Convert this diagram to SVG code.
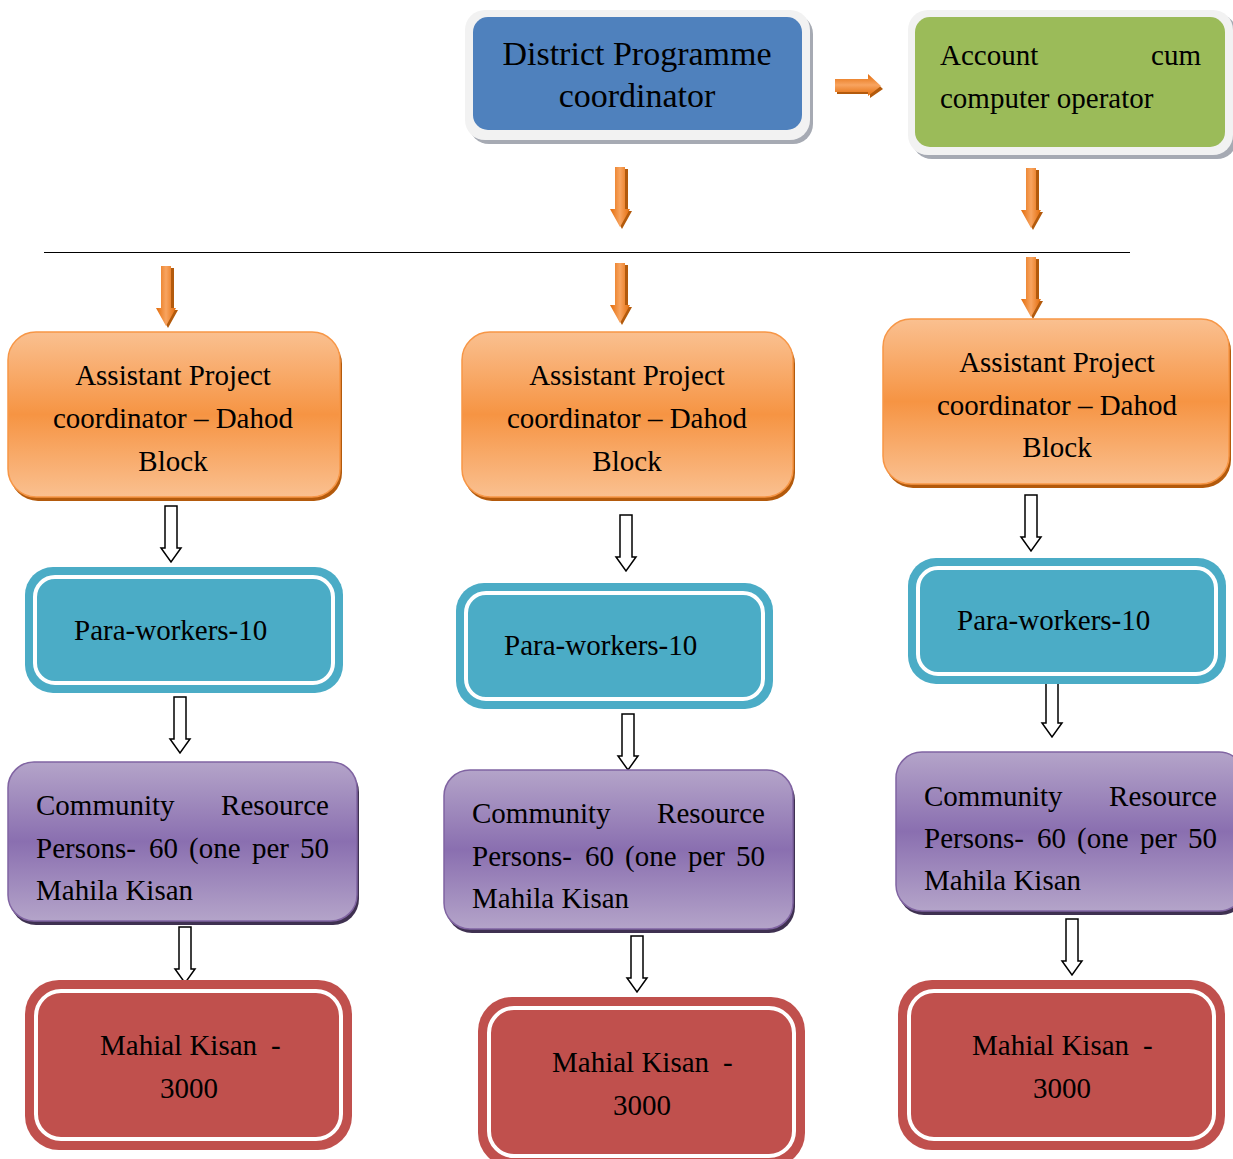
<svg xmlns="http://www.w3.org/2000/svg" width="1233" height="1159" viewBox="0 0 1233 1159">
<style>
text{font-family:"Liberation Serif","Times New Roman",serif;fill:#000;}
.t34{font-size:34px;}
.t28{font-size:29px;}
.mid{text-anchor:middle;}
.end{text-anchor:end;}
.wa{fill:#fff;stroke:#000;stroke-width:1.5;}
.orgShadow{fill:#b35a0c;}
.orgBody{fill:url(#gOrangeArrow);}
.orgBodyH{fill:url(#gOrangeArrowH);}
</style>
<defs>
<linearGradient id="gOrangeArrow" x1="0" y1="0" x2="1" y2="0">
<stop offset="0" stop-color="#e36c0a"/><stop offset="0.5" stop-color="#f8a460"/><stop offset="1" stop-color="#e36c0a"/>
</linearGradient>
<linearGradient id="gOrangeArrowH" x1="0" y1="0" x2="0" y2="1">
<stop offset="0" stop-color="#e36c0a"/><stop offset="0.5" stop-color="#f8a460"/><stop offset="1" stop-color="#e36c0a"/>
</linearGradient>
<linearGradient id="gOrange" x1="0" y1="0" x2="0" y2="1">
<stop offset="0" stop-color="#fac090"/><stop offset="0.5" stop-color="#f69443"/><stop offset="1" stop-color="#fac090"/>
</linearGradient>
<linearGradient id="gPurple" x1="0" y1="0" x2="0" y2="1">
<stop offset="0" stop-color="#b4a4c9"/><stop offset="0.5" stop-color="#8a6fb0"/><stop offset="1" stop-color="#b4a4c9"/>
</linearGradient>
<path id="wa" d="M-6,0 H6 V42 H10 L0,56 L-10,42 H-6 Z"/>
<g id="oa">
<path class="orgShadow" d="M-2,2 H8 V44 H12 L2,62 L-8,44 H-2 Z"/>
<path class="orgBody" d="M-5,0 H5 V42 H10 L0,60 L-10,42 H-5 Z"/>
</g>
</defs>

<g id="connectors">
<line x1="44" y1="252.5" x2="1130" y2="252.5" stroke="#000" stroke-width="1"/>
<g id="arrow-right">
<path class="orgShadow" d="M837,82 H870 V77 L883,89 L870,98 V94 H837 Z"/>
<path class="orgBodyH" d="M835,79 H868 V74 L881,86 L868,96 V92 H835 Z"/>
</g>
<use href="#oa" x="620" y="167"/>
<use href="#oa" x="1031" y="168"/>
<use href="#oa" x="166" y="266"/>
<use href="#oa" x="620" y="263"/>
<use href="#oa" x="1031" y="257"/>
<use href="#wa" class="wa" x="171" y="506"/>
<use href="#wa" class="wa" x="626" y="515"/>
<use href="#wa" class="wa" x="1031" y="495"/>
<use href="#wa" class="wa" x="180" y="697"/>
<use href="#wa" class="wa" x="628" y="714"/>
<use href="#wa" class="wa" x="1052" y="681"/>
<use href="#wa" class="wa" x="185" y="927"/>
<use href="#wa" class="wa" x="637" y="936"/>
<use href="#wa" class="wa" x="1072" y="919"/>
</g>

<g id="dpc">
<rect x="469" y="14" width="344" height="130" rx="20" fill="#a6aab3"/>
<rect x="465" y="10" width="345" height="130" rx="20" fill="#f2f2f2"/>
<rect x="473" y="17" width="329" height="113" rx="15" fill="#4f81bd"/>
<text class="t34 mid" x="637" y="65">District Programme</text>
<text class="t34 mid" x="637" y="107">coordinator</text>
</g>

<g id="account">
<rect x="912" y="14" width="325" height="145" rx="20" fill="#a6aab3"/>
<rect x="908" y="10" width="325" height="145" rx="20" fill="#f2f2f2"/>
<rect x="915" y="17" width="310" height="130" rx="15" fill="#9bbb59"/>
<text class="t28" x="940" y="65">Account</text>
<text class="t28 end" x="1201" y="65">cum</text>
<text class="t28" x="940" y="108">computer operator</text>
</g>

<g id="apc-left">
<rect x="10" y="336" width="332" height="165" rx="28" fill="#b35a0c"/>
<rect x="8" y="332" width="332" height="165" rx="28" fill="url(#gOrange)" stroke="#f79646" stroke-width="1.5"/>
<text class="t28 mid" x="173" y="385">Assistant Project</text>
<text class="t28 mid" x="173" y="428">coordinator – Dahod</text>
<text class="t28 mid" x="173" y="471">Block</text>
</g>
<g id="apc-mid">
<rect x="464" y="336" width="331" height="165" rx="28" fill="#b35a0c"/>
<rect x="462" y="332" width="331" height="165" rx="28" fill="url(#gOrange)" stroke="#f79646" stroke-width="1.5"/>
<text class="t28 mid" x="627" y="385">Assistant Project</text>
<text class="t28 mid" x="627" y="428">coordinator – Dahod</text>
<text class="t28 mid" x="627" y="471">Block</text>
</g>
<g id="apc-right">
<rect x="885" y="323" width="346" height="165" rx="28" fill="#b35a0c"/>
<rect x="883" y="319" width="346" height="165" rx="28" fill="url(#gOrange)" stroke="#f79646" stroke-width="1.5"/>
<text class="t28 mid" x="1057" y="372">Assistant Project</text>
<text class="t28 mid" x="1057" y="415">coordinator – Dahod</text>
<text class="t28 mid" x="1057" y="457">Block</text>
</g>

<g id="para-left">
<rect x="25" y="567" width="318" height="126" rx="28" fill="#4bacc6"/>
<rect x="35" y="577" width="298" height="106" rx="20" fill="#4bacc6" stroke="#fff" stroke-width="4"/>
<text class="t28" x="74" y="640">Para-workers-10</text>
</g>
<g id="para-mid">
<rect x="456" y="583" width="317" height="126" rx="28" fill="#4bacc6"/>
<rect x="466" y="593" width="297" height="106" rx="20" fill="#4bacc6" stroke="#fff" stroke-width="4"/>
<text class="t28" x="504" y="655">Para-workers-10</text>
</g>
<g id="para-right">
<rect x="908" y="558" width="318" height="126" rx="28" fill="#4bacc6"/>
<rect x="918" y="568" width="298" height="106" rx="20" fill="#4bacc6" stroke="#fff" stroke-width="4"/>
<text class="t28" x="957" y="630">Para-workers-10</text>
</g>

<g id="crp-left">
<rect x="10" y="766" width="349" height="159" rx="26" fill="#3f3151"/>
<rect x="8" y="762" width="349" height="159" rx="26" fill="url(#gPurple)" stroke="#8064a2" stroke-width="1.5"/>
<text class="t28" x="36" y="815">Community</text>
<text class="t28 end" x="329" y="815">Resource</text>
<text class="t28" y="858"><tspan x="36">Persons-</tspan><tspan x="149">60</tspan><tspan x="189">(one</tspan><tspan x="252">per</tspan><tspan x="300">50</tspan></text>
<text class="t28" x="36" y="900">Mahila Kisan</text>
</g>
<g id="crp-mid">
<rect x="446" y="774" width="349" height="159" rx="26" fill="#3f3151"/>
<rect x="444" y="770" width="349" height="159" rx="26" fill="url(#gPurple)" stroke="#8064a2" stroke-width="1.5"/>
<text class="t28" x="472" y="823">Community</text>
<text class="t28 end" x="765" y="823">Resource</text>
<text class="t28" y="866"><tspan x="472">Persons-</tspan><tspan x="585">60</tspan><tspan x="625">(one</tspan><tspan x="688">per</tspan><tspan x="736">50</tspan></text>
<text class="t28" x="472" y="908">Mahila Kisan</text>
</g>
<g id="crp-right">
<rect x="898" y="756" width="349" height="159" rx="26" fill="#3f3151"/>
<rect x="896" y="752" width="349" height="159" rx="26" fill="url(#gPurple)" stroke="#8064a2" stroke-width="1.5"/>
<text class="t28" x="924" y="806">Community</text>
<text class="t28 end" x="1217" y="806">Resource</text>
<text class="t28" y="848"><tspan x="924">Persons-</tspan><tspan x="1037">60</tspan><tspan x="1077">(one</tspan><tspan x="1140">per</tspan><tspan x="1188">50</tspan></text>
<text class="t28" x="924" y="890">Mahila Kisan</text>
</g>

<g id="mk-left">
<rect x="25" y="980" width="327" height="170" rx="34" fill="#c0504d"/>
<rect x="36" y="991" width="305" height="148" rx="25" fill="#c0504d" stroke="#fff" stroke-width="4"/>
<text class="t28" x="100" y="1055">Mahial Kisan</text>
<text class="t28" x="271" y="1055">-</text>
<text class="t28 mid" x="189" y="1098">3000</text>
</g>
<g id="mk-mid">
<rect x="478" y="997" width="327" height="170" rx="34" fill="#c0504d"/>
<rect x="489" y="1008" width="305" height="148" rx="25" fill="#c0504d" stroke="#fff" stroke-width="4"/>
<text class="t28" x="552" y="1072">Mahial Kisan</text>
<text class="t28" x="723" y="1072">-</text>
<text class="t28 mid" x="642" y="1115">3000</text>
</g>
<g id="mk-right">
<rect x="898" y="980" width="327" height="170" rx="34" fill="#c0504d"/>
<rect x="909" y="991" width="305" height="148" rx="25" fill="#c0504d" stroke="#fff" stroke-width="4"/>
<text class="t28" x="972" y="1055">Mahial Kisan</text>
<text class="t28" x="1143" y="1055">-</text>
<text class="t28 mid" x="1062" y="1098">3000</text>
</g>
</svg>
